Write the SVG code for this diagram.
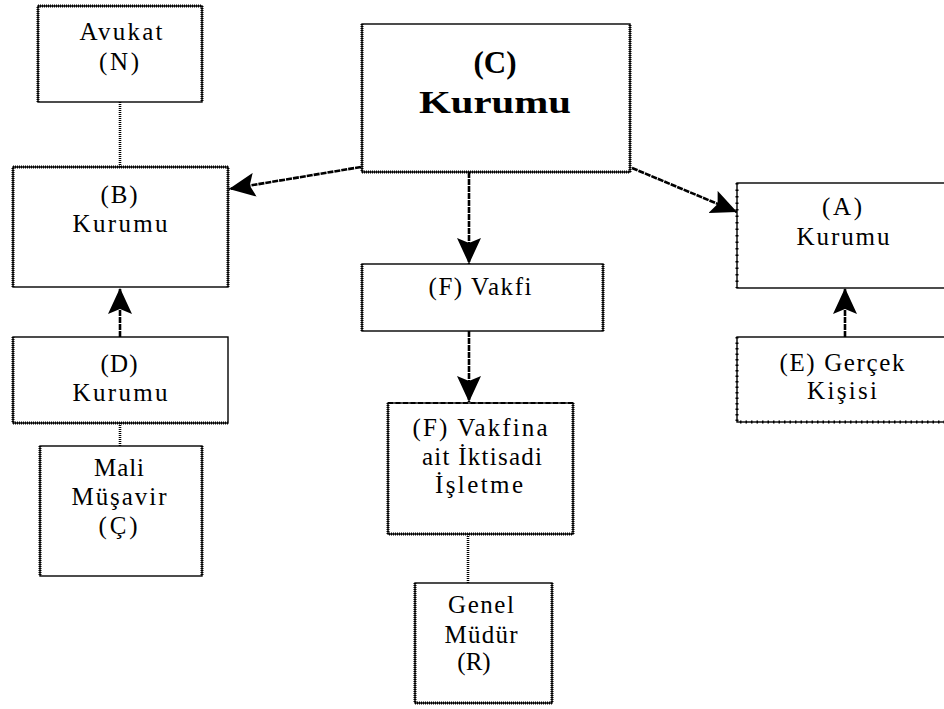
<svg xmlns="http://www.w3.org/2000/svg" width="944" height="709" viewBox="0 0 944 709">
  <style>
    .box { fill: #fff; stroke: #000; stroke-width: 1.4; }
    .dot { fill: none; stroke: #000; stroke-width: 3; stroke-dasharray: 1 1; }
    .t { font-family: "Liberation Serif", "DejaVu Serif", serif; font-size: 25px; fill: #000; text-anchor: middle; }
    .tb { font-family: "Liberation Serif", "DejaVu Serif", serif; font-size: 31px; font-weight: bold; fill: #000; text-anchor: middle; }
    .link { fill: none; stroke: #000; stroke-width: 2.6; stroke-dasharray: 1 1; }
    .arrow { fill: none; stroke: #000; stroke-width: 2.6; stroke-dasharray: 6 1; }
  </style>
  <defs>
    <marker id="head" viewBox="0 0 26 24" refX="26" refY="12" markerWidth="26" markerHeight="24" markerUnits="userSpaceOnUse" orient="auto">
      <path d="M0,0 L26,12 L0,24 L5,12 z" fill="#000"/>
    </marker>
  </defs>
  <rect width="944" height="709" fill="#fff"/>

  <!-- connectors -->
  <g id="connectors">
    <line class="link" x1="120" y1="102" x2="120" y2="167"/>
    <line class="arrow" x1="361" y1="167" x2="229" y2="189" marker-end="url(#head)"/>
    <line class="arrow" x1="632" y1="168" x2="737" y2="212" marker-end="url(#head)"/>
    <line class="arrow" x1="469" y1="172" x2="469" y2="264" marker-end="url(#head)"/>
    <line class="arrow" x1="469" y1="331" x2="469" y2="402" marker-end="url(#head)"/>
    <line class="arrow" x1="120" y1="337" x2="120" y2="288" marker-end="url(#head)"/>
    <line class="arrow" x1="845" y1="337" x2="845" y2="288" marker-end="url(#head)"/>
    <line class="link" x1="120" y1="423" x2="120" y2="446"/>
    <line class="link" x1="468" y1="534" x2="468" y2="583"/>
  </g>

  <!-- Avukat (N) -->
  <g id="avukat">
    <rect class="box" x="38" y="6" width="164" height="96"/>
    <path class="dot" d="M38,102 V6 H202 V102"/>
    <text class="t" x="121" y="40" textLength="83" lengthAdjust="spacing">Avukat</text>
    <text class="t" x="119" y="70" textLength="40" lengthAdjust="spacing">(N)</text>
  </g>

  <!-- (B) Kurumu -->
  <g id="kurum-b">
    <rect class="box" x="13" y="167" width="215" height="120"/>
    <path class="dot" d="M13,287 V167 H228 V287"/>
    <text class="t" x="119" y="203" textLength="37" lengthAdjust="spacing">(B)</text>
    <text class="t" x="120" y="232" textLength="95" lengthAdjust="spacing">Kurumu</text>
  </g>

  <!-- (C) Kurumu -->
  <g id="kurum-c">
    <rect class="box" x="362" y="24" width="268" height="148"/>
    <path class="dot" d="M362,24 V172 H630 V24"/>
    <text class="tb" x="495" y="73">(C)</text>
    <text class="tb" x="495" y="113" textLength="152" lengthAdjust="spacingAndGlyphs">Kurumu</text>
  </g>

  <!-- (F) Vakfi -->
  <g id="vakif-f">
    <rect class="box" x="362" y="264" width="241" height="67"/>
    <path class="dot" d="M362,264 V331 M603,264 V331"/>
    <text class="t" x="480" y="295" textLength="103" lengthAdjust="spacing">(F) Vakfi</text>
  </g>

  <!-- (A) Kurumu -->
  <g id="kurum-a">
    <rect class="box" x="737" y="183" width="215" height="105"/>
    <path class="dot" d="M737,183 V288" style="stroke-dasharray: 1.5 5"/>
    <text class="t" x="842" y="215" textLength="40" lengthAdjust="spacing">(A)</text>
    <text class="t" x="843" y="245" textLength="93" lengthAdjust="spacing">Kurumu</text>
  </g>

  <!-- (E) Gerçek Kişisi -->
  <g id="kisi-e">
    <rect class="box" x="737" y="337" width="215" height="85"/>
    <path class="dot" d="M737,337 V422 H944" style="stroke-dasharray: 1.5 4"/>
    <text class="t" x="842" y="371" textLength="125" lengthAdjust="spacing">(E) Gerçek</text>
    <text class="t" x="842" y="399" textLength="70" lengthAdjust="spacing">Kişisi</text>
  </g>

  <!-- (D) Kurumu -->
  <g id="kurum-d">
    <rect class="box" x="13" y="337" width="215" height="86"/>
    <path class="dot" d="M13,337 V423 H228"/>
    <text class="t" x="119" y="372" textLength="37" lengthAdjust="spacing">(D)</text>
    <text class="t" x="120" y="401" textLength="95" lengthAdjust="spacing">Kurumu</text>
  </g>

  <!-- Mali Müşavir (Ç) -->
  <g id="mali-musavir">
    <rect class="box" x="40" y="446" width="162" height="130"/>
    <path class="dot" d="M40,446 V576 M202,446 V576"/>
    <text class="t" x="119" y="476" textLength="50" lengthAdjust="spacing">Mali</text>
    <text class="t" x="119" y="505" textLength="95" lengthAdjust="spacing">Müşavir</text>
    <text class="t" x="118" y="534" textLength="39" lengthAdjust="spacing">(Ç)</text>
  </g>

  <!-- (F) Vakfına ait İktisadi İşletme -->
  <g id="iktisadi-isletme">
    <rect class="box" x="388" y="403" width="185" height="131"/>
    <path class="dot" d="M388,403 V534 H573 V403"/>
    <path class="dot" d="M388,403 H573" style="stroke-dasharray: 5 2.5; stroke-width: 2"/>
    <text class="t" x="480" y="436" textLength="135" lengthAdjust="spacing">(F) Vakfina</text>
    <text class="t" x="482" y="465" textLength="120" lengthAdjust="spacing">ait İktisadi</text>
    <text class="t" x="479" y="493" textLength="88" lengthAdjust="spacing">İşletme</text>
  </g>

  <!-- Genel Müdür (R) -->
  <g id="genel-mudur">
    <rect class="box" x="415" y="583" width="137" height="120"/>
    <path class="dot" d="M415,583 V703 H552 V583"/>
    <text class="t" x="481" y="613" textLength="66" lengthAdjust="spacing">Genel</text>
    <text class="t" x="481" y="643" textLength="73" lengthAdjust="spacing">Müdür</text>
    <text class="t" x="474" y="670">(R)</text>
  </g>
</svg>
